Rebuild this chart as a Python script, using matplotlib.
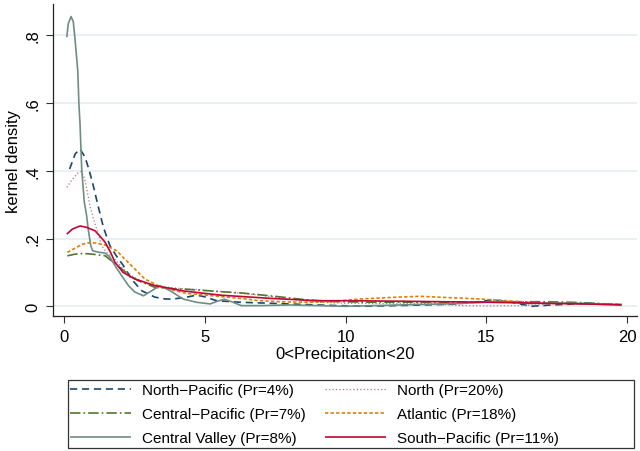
import matplotlib
matplotlib.use("Agg")
import matplotlib.pyplot as plt
from matplotlib.patches import Rectangle

plt.rcParams['font.family'] = ['Liberation Sans', 'DejaVu Sans']
plt.rcParams['lines.scale_dashes'] = False

# ---- data ----
cv_x = [0.1, 0.15, 0.25, 0.33, 0.39, 0.49, 0.53, 0.57, 0.63, 0.72, 0.8, 0.86, 0.95, 1.02, 1.2, 1.46, 1.63,
        1.85, 2.05, 2.3, 2.52, 2.82, 3.1, 3.4, 3.77, 4.23, 4.7, 5.19, 5.45, 5.7, 6.0, 6.3, 7, 8, 9, 10, 11,
        12, 13, 14, 15, 15.5, 16.5, 17.5, 18.5, 19.8]
cv_y = [0.794, 0.833, 0.855, 0.84, 0.79, 0.695, 0.597, 0.538, 0.405, 0.308, 0.27, 0.228, 0.179, 0.164, 0.16,
        0.157, 0.145, 0.115, 0.09, 0.06, 0.042, 0.031, 0.045, 0.061, 0.046, 0.0215, 0.012, 0.007, 0.015, 0.021,
        0.012, 0.002, 0.002, 0.004, 0.002, 0.0, 0.002, 0.004, 0.006, 0.008, 0.012, 0.015, 0.008, 0.01, 0.008,
        0.005]

np_x = [0.2, 0.4, 0.57, 0.75, 0.9, 1.04, 1.2, 1.40, 1.63, 1.85, 2.11, 2.4, 2.76, 3.23, 3.59, 3.87, 4.36, 4.71,
        5.0, 5.42, 6.25, 7.32, 8.98, 10.6, 12.3, 13.7, 14.6, 15.2, 15.8, 16.6, 17.3, 18.5, 19.8]
np_y = [0.405, 0.45, 0.464, 0.44, 0.40, 0.356, 0.30, 0.233, 0.179, 0.15, 0.12, 0.08, 0.046, 0.027, 0.0215,
        0.0215, 0.027, 0.033, 0.028, 0.0165, 0.012, 0.009, 0.004, 0.0, 0.003, 0.006, 0.012, 0.019, 0.014, 0.0,
        0.004, 0.008, 0.005]

no_x = [0.1, 0.3, 0.51, 0.62, 0.72, 0.81, 0.92, 1.04, 1.16, 1.34, 1.5, 1.8, 2.1, 2.5, 3.0, 3.5, 4.2, 4.83,
        5.9, 6.96, 8.0, 9.0, 10, 11, 12, 13, 14.1, 15, 16.4, 17.5, 18.5, 19.8]
no_y = [0.351, 0.375, 0.395, 0.398, 0.38, 0.346, 0.297, 0.26, 0.228, 0.179, 0.16, 0.14, 0.11, 0.085, 0.065,
        0.058, 0.052, 0.049, 0.041, 0.033, 0.022, 0.012, 0.009, 0.008, 0.009, 0.008, 0.002, 0.001, 0.002,
        0.008, 0.01, 0.005]

cp_x = [0.12, 0.4, 0.72, 1.1, 1.46, 1.75, 2.05, 2.35, 2.64, 3.23, 4.0, 4.24, 5.42, 6.37, 7.55, 8.62, 9.6,
        10.75, 12, 13.5, 15, 16, 17, 18, 18.6, 19.8]
cp_y = [0.149, 0.154, 0.156, 0.153, 0.149, 0.13, 0.11, 0.09, 0.0755, 0.056, 0.051, 0.051, 0.044, 0.039, 0.029,
        0.019, 0.014, 0.012, 0.012, 0.012, 0.013, 0.0135, 0.0135, 0.012, 0.01, 0.005]

at_x = [0.12, 0.4, 0.65, 0.86, 1.1, 1.46, 1.87, 2.15, 2.4, 2.88, 3.47, 4.36, 5.42, 6.49, 6.85, 7.8, 8.74,
        9.45, 10.5, 11.7, 12.65, 13.7, 14.8, 15.96, 17.1, 18.5, 19.8]
at_y = [0.159, 0.172, 0.183, 0.187, 0.187, 0.181, 0.164, 0.14, 0.12, 0.08, 0.056, 0.038, 0.03, 0.0215, 0.017,
        0.013, 0.012, 0.0135, 0.0215, 0.0265, 0.0295, 0.0255, 0.0215, 0.015, 0.009, 0.007, 0.005]

sp_x = [0.1, 0.3, 0.57, 0.8, 1.1, 1.3, 1.46, 1.65, 1.81, 2.1, 2.52, 3.23, 3.77, 4.18, 5.54, 7.32, 8.98, 10,
        12, 15, 17, 18.5, 19.8]
sp_y = [0.213, 0.228, 0.237, 0.233, 0.223, 0.205, 0.189, 0.16, 0.13, 0.1, 0.0805, 0.061, 0.053, 0.046, 0.033,
        0.0235, 0.0165, 0.0165, 0.015, 0.012, 0.009, 0.007, 0.004]

labels = ["North\u2212Pacific (Pr=4%)", "North (Pr=20%)", "Central\u2212Pacific (Pr=7%)",
          "Atlantic (Pr=18%)", "Central Valley (Pr=8%)", "South\u2212Pacific (Pr=11%)"]
x_ticks = [0, 5, 10, 15, 20]
y_ticks = [0, 0.2, 0.4, 0.6, 0.8]
y_ticklabels = ["0", ".2", ".4", ".6", ".8"]

# ---- styles ----
series = [
    (np_x, np_y, dict(color="#1a476f", lw=1.2, dashes=(5.2, 3.4))),
    (no_x, no_y, dict(color="#b8737a", lw=0.9, dashes=(0.9, 1.6))),
    (cp_x, cp_y, dict(color="#55752f", lw=1.2, dashes=(7.5, 2.2, 1.2, 2.2))),
    (at_x, at_y, dict(color="#e37e00", lw=1.2, dashes=(2.4, 1.6))),
    (cv_x, cv_y, dict(color="#6e8e84", lw=1.2, linestyle="-")),
    (sp_x, sp_y, dict(color="#c10534", lw=1.2, linestyle="-")),
]

W, H = 640, 452
fig = plt.figure(figsize=(6.4, 4.52), dpi=100)
ax = fig.add_axes([53 / W, 1 - 317 / H, (637 - 53) / W, (317 - 5) / H])

handles = []
for (xs, ys, st), lab in zip(series, labels):
    ln, = ax.plot(xs, ys, label=lab, solid_capstyle="butt", dash_capstyle="butt", **st)
    handles.append(ln)

ax.set_xlim(-0.39, 20.35)
ax.set_ylim(-0.0286, 0.892)
ax.set_xticks(x_ticks)
ax.set_yticks(y_ticks)
ax.set_yticklabels(y_ticklabels, rotation=90, va="center")
ax.tick_params(axis="both", direction="out", length=5, width=0.8, color="#333333",
               labelsize=12, pad=4)
ax.grid(axis="y", color="#e8eff1", lw=1.3)
ax.set_axisbelow(True)
for s in ["top", "right"]:
    ax.spines[s].set_visible(False)
for s in ["left", "bottom"]:
    ax.spines[s].set_linewidth(0.9)
    ax.spines[s].set_color("#222222")

ax.set_ylabel("kernel density", fontsize=12, labelpad=3)
ax.set_xlabel("0<Precipitation<20", fontsize=12, labelpad=2)

# legend frame
fig.patches.append(Rectangle((68 / W, 1 - 449 / H), (634 - 68) / W, (449 - 381) / H,
                             transform=fig.transFigure, fill=False, edgecolor="#333333", lw=0.9))

# legend: two columns, rows NP|N, CP|A, CV|SP
kw = dict(loc="upper left", fontsize=11, frameon=False, handlelength=4.0, handletextpad=0.7,
          borderaxespad=0, labelspacing=0.65, borderpad=0.1)
leg1 = fig.legend(handles=[handles[i] for i in (0, 2, 4)], labels=[labels[i] for i in (0, 2, 4)],
                  bbox_to_anchor=(68.5 / W, 1 - 382.5 / H), **kw)
leg2 = fig.legend(handles=[handles[i] for i in (1, 3, 5)], labels=[labels[i] for i in (1, 3, 5)],
                  bbox_to_anchor=(323.5 / W, 1 - 382.5 / H), **kw)

fig.savefig("out.png", dpi=100)
